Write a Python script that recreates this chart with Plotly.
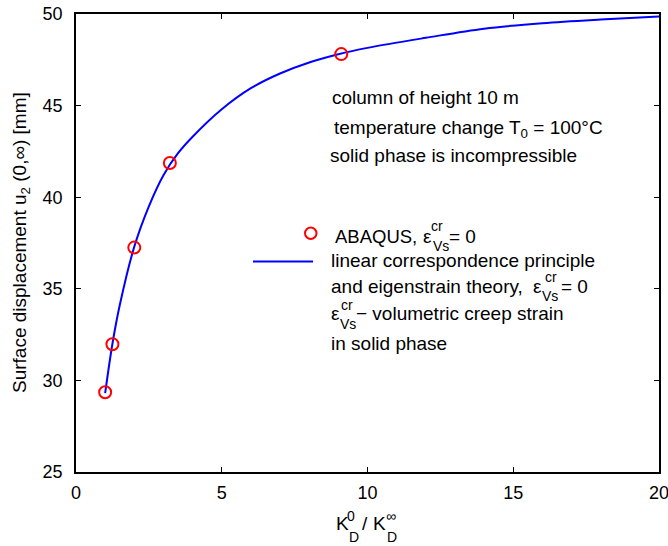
import plotly.graph_objects as go

# ---- data ----
abaqus_x = [1.0, 1.25, 2.0, 3.22, 9.1]
abaqus_y = [29.35, 31.97, 37.25, 41.87, 47.81]

theory_x = [1.0, 1.25, 1.5, 2.0, 2.5, 3.0, 3.5, 4.0, 5.0, 6.0, 7.0, 8.0, 9.0, 10.0,
            12.0, 14.0, 16.0, 18.0, 20.0]
theory_y = [29.3, 32.0, 34.1, 37.3, 39.5, 41.2, 42.4, 43.3, 44.8, 45.95, 46.75, 47.35,
            47.8, 48.15, 48.7, 49.2, 49.5, 49.7, 49.86]

x_ticks = [0, 5, 10, 15, 20]
x_tick_text = ["0", "5", "10", "15", "20"]
y_ticks = [25, 30, 35, 40, 45, 50]
y_tick_text = ["25", "30", "35", "40", "45", "50"]

FONT = "Liberation Sans, Arial, sans-serif"
W, H = 668, 546
L, R, T, B = 76, 659, 14, 472      # plot box in window pixels


def pp(xp, yp):
    return (xp - L) / (R - L), (B - yp) / (B - T)


annotations = []


def label(text, xp, yp, size=19, anchor="left", angle=0):
    xx, yy = pp(xp, yp)
    annotations.append(dict(text=text, x=xx, y=yy, xref="paper", yref="paper",
                            xanchor=anchor, yanchor="middle", showarrow=False,
                            textangle=angle, font=dict(family=FONT, size=size, color="black")))


fig = go.Figure()
fig.add_trace(go.Scatter(x=theory_x, y=theory_y, mode="lines",
                         line=dict(color="#0000ff", width=2, shape="spline", smoothing=1.0),
                         name="theory", showlegend=False))
fig.add_trace(go.Scatter(x=abaqus_x, y=abaqus_y, mode="markers",
                         marker=dict(symbol="circle-open", size=12, color="#ff0000",
                                     line=dict(width=2, color="#ff0000")),
                         name="ABAQUS", showlegend=False))

# text block
label("column of height 10 m", 330, 97)
label("temperature change T<sub>0</sub> = 100°C", 332, 129)
label("solid phase is incompressible", 328, 155)

# legend block
label("ABAQUS,", 333, 236, size=18.5)
label("ε", 421, 236)
label("cr", 429, 226, size=14)
label("Vs", 431, 246, size=14)
label("= 0", 447, 236)
label("linear correspondence principle", 329, 260)
label("and eigenstrain theory,", 329, 286)
label("ε", 531, 286)
label("cr", 543, 277, size=14)
label("Vs", 540, 296, size=14)
label("= 0", 559, 286)
label("ε", 329, 313)
label("cr", 339, 305, size=14)
label("Vs", 338, 324, size=14)
label("− volumetric creep strain", 354, 313)
label("in solid phase", 329, 343)

# axis titles
label("Surface displacement u<sub>2</sub> (0,∞) [mm]", 21, 243, size=19, anchor="center", angle=-90)
label("K", 334, 523)
label("0", 345, 516, size=14)
label("D", 347, 537, size=14)
label("/", 360, 523)
label("K", 371, 523)
label("∞", 384, 516, size=14)
label("D", 385, 537, size=14)

# legend keys
x0, y0 = pp(253, 261.5)
x1, _ = pp(313, 261.5)
cx0, cy0 = pp(305, 239)
cx1, cy1 = pp(316.5, 227.5)
shapes = [
    dict(type="line", xref="paper", yref="paper", x0=x0, x1=x1, y0=y0, y1=y0,
         line=dict(color="#0000ff", width=2)),
    dict(type="circle", xref="paper", yref="paper", x0=cx0, x1=cx1, y0=cy0, y1=cy1,
         line=dict(color="#ff0000", width=2)),
]

axis_common = dict(showline=True, mirror="ticks", linecolor="black", linewidth=1.5,
                   ticks="inside", ticklen=5, tickwidth=1, tickcolor="black",
                   showgrid=False, zeroline=False, automargin=False,
                   ticklabeloverflow="allow",
                   tickfont=dict(family=FONT, size=18, color="black"))

fig.update_layout(
    width=W, height=H,
    margin=dict(l=L, r=W - R, t=T, b=H - B, autoexpand=False),
    paper_bgcolor="white", plot_bgcolor="white",
    xaxis=dict(range=[0, 20], tickvals=x_ticks, ticktext=x_tick_text,
               ticklabelstandoff=4, **axis_common),
    yaxis=dict(range=[25, 50], tickvals=y_ticks, ticktext=y_tick_text,
               ticklabelstandoff=8, **axis_common),
    annotations=annotations,
    shapes=shapes,
    showlegend=False,
)

fig.write_html("out.html", config={"displayModeBar": False},
               post_script="document.body.style.margin='0px';"
                           "document.body.style.overflow='hidden';")
